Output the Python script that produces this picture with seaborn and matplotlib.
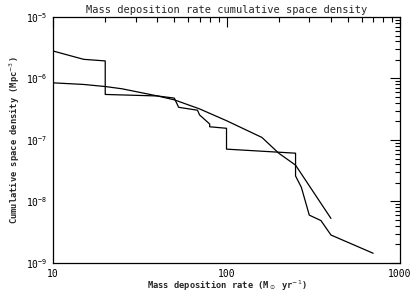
import numpy as np
import pandas as pd
import seaborn as sns
import matplotlib
matplotlib.use('Agg')
import matplotlib.pyplot as plt
from matplotlib.ticker import FixedLocator, FixedFormatter, LogLocator, NullFormatter

# step-like curve
step_rate = [10, 15, 20, 20, 40, 50, 53, 68, 70, 80, 80, 100, 100, 250, 250, 270, 300, 350, 400, 700]
step_density = [2.8e-6, 2.05e-6, 1.93e-6, 5.5e-7, 5.2e-7, 4.8e-7, 3.4e-7, 3.05e-7, 2.55e-7, 1.82e-7,
                1.64e-7, 1.55e-7, 7.1e-8, 6.1e-8, 2.6e-8, 1.7e-8, 6.0e-9, 4.9e-9, 2.85e-9, 1.44e-9]

# smooth curve
smooth_rate = [10, 15, 20, 25, 40, 50, 70, 100, 160, 200, 250, 400]
smooth_density = [8.5e-7, 8.0e-7, 7.4e-7, 6.8e-7, 5.2e-7, 4.5e-7, 3.2e-7, 2.06e-7, 1.1e-7, 6.1e-8, 3.9e-8, 5.3e-9]

xticks = [10, 100, 1000]
xtick_labels = ['10', '100', '1000']

sns.set_style('white')
plt.rcParams['font.family'] = ['DejaVu Sans Mono']
plt.rcParams['mathtext.fontset'] = 'dejavusans'

df_step = pd.DataFrame({'rate': step_rate, 'density': step_density})
df_smooth = pd.DataFrame({'rate': smooth_rate, 'density': smooth_density})

fig = plt.figure(figsize=(4.15, 2.97), dpi=100)
ax = fig.add_axes([0.1277, 0.1145, 0.8362, 0.8283])

sns.lineplot(data=df_step, x='rate', y='density', sort=False, estimator=None,
             color='black', lw=0.9, ax=ax)
sns.lineplot(data=df_smooth, x='rate', y='density', sort=False, estimator=None,
             color='black', lw=0.9, ax=ax)

ax.set_xscale('log')
ax.set_yscale('log')
ax.set_xlim(10, 1000)
ax.set_ylim(1e-9, 1e-5)

ax.xaxis.set_major_locator(FixedLocator(xticks))
ax.xaxis.set_major_formatter(FixedFormatter(xtick_labels))
ax.xaxis.set_minor_locator(LogLocator(base=10, subs=np.arange(2, 10)))
ax.xaxis.set_minor_formatter(NullFormatter())
ax.yaxis.set_minor_locator(LogLocator(base=10, subs=np.arange(2, 10)))
ax.yaxis.set_minor_formatter(NullFormatter())

ax.tick_params(which='both', direction='in', top=True, right=True, colors='black',
               labelsize=7, width=0.8)
ax.tick_params(which='major', length=7, pad=4)
ax.tick_params(which='minor', length=3.5)
for s in ax.spines.values():
    s.set_color('black')
    s.set_linewidth(0.9)

ax.set_xlabel(r'Mass deposition rate (M$_\odot$ yr$^{-1}$)', fontsize=6.3,
              fontweight='bold', labelpad=0)
ax.set_ylabel(r'Cumulative space density (Mpc$^{-3}$)', fontsize=6.3,
              fontweight='bold', labelpad=3)
ax.set_title('Mass deposition rate cumulative space density', fontsize=7.5, pad=3)

fig.savefig('out.png', dpi=100)
